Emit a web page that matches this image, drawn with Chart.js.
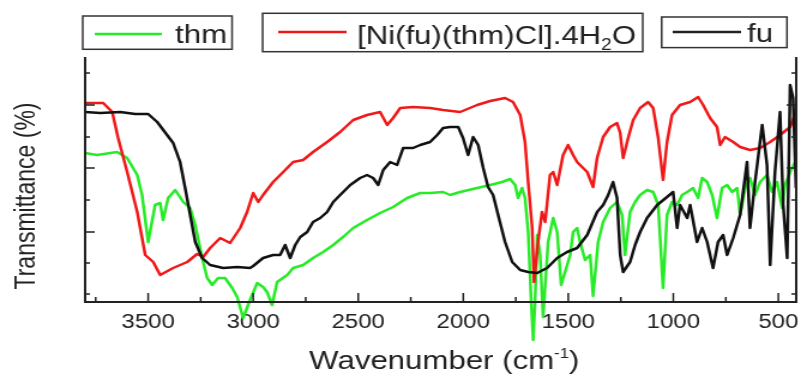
<!DOCTYPE html>
<html>
<head>
<meta charset="utf-8">
<script src="https://cdn.jsdelivr.net/npm/chart.js@4/dist/chart.umd.min.js"></script>
<style>
html, body { margin: 0; padding: 0; background: #fff; }
</style>
</head>
<body>
<canvas id="spectrum" width="668" height="374" style="display:block;width:801px;height:374px"></canvas>
<script>
// wavenumber (cm-1) and transmittance (arbitrary units, no labels on the axis)
var thmWn = [3800,3743,3648,3600,3552,3529,3500,3467,3443,3429,3405,3371,3333,3300,3276,3243,3219,3195,3167,3134,
    3100,3076,3048,3015,2981,2953,2934,2910,2886,2838,2810,2762,2715,2667,2619,2572,2524,2458,2396,2334,
    2267,2205,2158,2096,2063,2015,1934,1872,1815,1777,1753,1739,1720,1706,1691,1677,1667,1658,1648,1634,
    1620,1596,1572,1553,1534,1491,1477,1458,1444,1420,1396,1382,1358,1334,1301,1268,1244,1230,1206,1182,
    1158,1125,1096,1072,1049,1030,1006,982,958,934,906,882,863,839,815,792,768,744,720,696,
    682,658,635,611,587,554,530,506,482,468,444,420,416];
var thmT = [149,147,150,144,127,107,60,97,99,82,104,112,100,94,77,44,24,17,24,24,
    14,5,-16,2,19,15,10,-3,20,27,34,37,44,50,57,65,74,82,89,95,
    104,109,109,110,107,110,114,117,120,123,117,104,114,104,70,2,-38,2,67,47,
    -15,60,84,70,17,47,70,74,60,42,47,6,60,80,94,100,87,47,90,100,
    107,112,110,97,14,87,100,97,107,110,114,104,124,120,107,84,114,117,110,114,
    87,114,124,107,120,127,110,120,94,117,130,140,150];

var nicWn = [3800,3714,3671,3643,3600,3552,3514,3476,3443,3381,3314,3267,3238,3205,3157,3110,3062,3029,3000,2976,
    2953,2905,2857,2810,2762,2715,2648,2586,2524,2458,2396,2362,2334,2300,2239,2158,2096,2015,1934,1872,
    1801,1763,1729,1706,1691,1672,1663,1644,1625,1610,1587,1572,1553,1525,1501,1477,1458,1444,1410,1382,
    1363,1334,1301,1268,1253,1239,1215,1191,1158,1120,1096,1072,1049,1030,1006,968,920,882,858,825,
    792,777,754,715,682,635,587,539,492,444,416];
var nicT = [199,199,190,164,130,90,47,40,27,34,40,48,45,54,64,59,74,90,109,100,
    107,120,130,140,142,150,160,170,182,187,190,177,184,194,195,194,192,190,197,201,
    204,200,187,160,120,74,20,60,90,80,127,130,117,147,157,147,140,137,130,115,
    144,165,175,179,169,144,164,182,194,200,194,164,122,160,187,197,200,205,197,184,
    175,157,165,160,155,152,154,160,167,175,190];

var fuWn = [3800,3728,3633,3562,3500,3457,3410,3381,3348,3324,3300,3276,3243,3205,3143,3076,3015,3000,2953,2905,
    2872,2848,2824,2800,2776,2743,2715,2681,2648,2619,2586,2538,2491,2458,2429,2405,2381,2348,2315,2286,
    2239,2205,2158,2124,2096,2063,2024,2001,1977,1953,1929,1905,1882,1858,1834,1801,1767,1729,1691,1648,
    1601,1553,1506,1458,1410,1363,1334,1310,1287,1268,1253,1239,1206,1182,1158,1125,1077,1030,1001,982,
    968,934,920,887,863,839,811,787,763,744,715,682,649,635,611,577,554,539,516,492,
    477,458,444,430,416];
var fuT = [190,189,190,188,188,180,167,159,140,114,87,60,44,37,34,35,34,36,44,47,
    47,57,44,57,65,70,80,84,90,100,107,117,124,127,124,117,132,140,137,154,
    154,157,160,167,174,175,175,164,147,165,157,134,115,107,87,60,40,32,30,29,
    34,44,50,54,67,90,97,107,120,104,47,30,40,57,70,84,97,105,110,74,
    97,84,97,60,74,60,34,60,67,47,64,87,140,74,120,177,137,37,130,190,
    97,44,217,204,114];

var xMajor = [3500, 3000, 2500, 2000, 1500, 1000, 500];
var xMinor = [3750, 3250, 2750, 2250, 1750, 1250, 750];
var yMajor = [70, 134, 197];
var yMinor = [8, 39, 102, 165, 229];

function pairs(wn, t) {
    return wn.map(function (w, i) { return { x: w, y: t[i] }; });
}

var FONT = '"Liberation Sans", Arial, sans-serif';

function legendBox(ctx, x0, y0, x1, y1) {
    ctx.strokeStyle = '#333';
    ctx.lineWidth = 1.5;
    ctx.strokeRect(x0, y0, x1 - x0, y1 - y0);
}
function legendLine(ctx, x0, x1, y, color) {
    ctx.strokeStyle = color;
    ctx.lineWidth = 2.5;
    ctx.beginPath();
    ctx.moveTo(x0, y);
    ctx.lineTo(x1, y);
    ctx.stroke();
}

var decorations = {
    id: 'decorations',
    afterDraw: function (chart) {
        var ctx = chart.ctx;
        var a = chart.chartArea;
        var xs = chart.scales.x, ys = chart.scales.y;
        ctx.save();

        // frame: left, bottom, right
        ctx.strokeStyle = '#222';
        ctx.lineWidth = 2;
        ctx.beginPath();
        ctx.moveTo(a.left, a.top);
        ctx.lineTo(a.left, a.bottom);
        ctx.lineTo(a.right, a.bottom);
        ctx.lineTo(a.right, a.top);
        ctx.stroke();

        // inward ticks
        ctx.lineWidth = 1.5;
        ctx.beginPath();
        xMajor.forEach(function (v) {
            var p = xs.getPixelForValue(v);
            ctx.moveTo(p, a.bottom); ctx.lineTo(p, a.bottom - 9);
        });
        xMinor.forEach(function (v) {
            var p = xs.getPixelForValue(v);
            ctx.moveTo(p, a.bottom); ctx.lineTo(p, a.bottom - 5);
        });
        yMajor.forEach(function (v) {
            var p = ys.getPixelForValue(v);
            ctx.moveTo(a.left, p); ctx.lineTo(a.left + 8, p);
            ctx.moveTo(a.right, p); ctx.lineTo(a.right - 8, p);
        });
        yMinor.forEach(function (v) {
            var p = ys.getPixelForValue(v);
            ctx.moveTo(a.left, p); ctx.lineTo(a.left + 4, p);
            ctx.moveTo(a.right, p); ctx.lineTo(a.right - 4, p);
        });
        ctx.stroke();

        // legend
        ctx.fillStyle = '#fff';
        ctx.fillRect(69, 16, 124.5, 33.3);
        ctx.fillRect(219, 13.3, 317, 38.4);
        ctx.fillRect(551.8, 17, 104.5, 30.6);
        legendBox(ctx, 69, 16, 193.5, 49.3);
        legendBox(ctx, 219, 13.3, 536, 51.7);
        legendBox(ctx, 551.8, 17, 656.3, 47.6);
        legendLine(ctx, 79, 135, 34, 'rgb(40,235,40)');
        legendLine(ctx, 232, 289, 32, 'rgb(240,25,25)');
        legendLine(ctx, 561, 618, 32, '#222');

        ctx.fillStyle = '#222';
        ctx.textAlign = 'left';
        ctx.textBaseline = 'alphabetic';
        ctx.font = '26px ' + FONT;
        ctx.fillText('thm', 146, 43);
        ctx.fillText('fu', 623, 42);
        var t1 = '[Ni(fu)(thm)Cl].4H';
        var x = 297.7;
        ctx.fillText(t1, x, 44);
        x += ctx.measureText(t1).width;
        ctx.font = '16px ' + FONT;
        ctx.fillText('2', x, 50);
        x += ctx.measureText('2').width;
        ctx.font = '26px ' + FONT;
        ctx.fillText('O', x, 44);

        // x title with superscript
        var m1 = 'Wavenumber (cm', m2 = '-1', m3 = ')';
        ctx.font = '26px ' + FONT;
        var w1 = ctx.measureText(m1).width, w3 = ctx.measureText(m3).width;
        ctx.font = '14px ' + FONT;
        var w2 = ctx.measureText(m2).width;
        var sx = 370.5 - (w1 + w2 + w3) / 2;
        ctx.font = '26px ' + FONT;
        ctx.fillText(m1, sx, 369);
        ctx.font = '14px ' + FONT;
        ctx.fillText(m2, sx + w1, 358);
        ctx.font = '26px ' + FONT;
        ctx.fillText(m3, sx + w1 + w2, 369);

        // y title
        ctx.translate(22.5, 196);
        ctx.rotate(-Math.PI / 2);
        ctx.textAlign = 'center';
        ctx.textBaseline = 'middle';
        ctx.font = '23px ' + FONT;
        ctx.fillText('Transmittance (%)', 0, 0);
        ctx.restore();
    }
};

var ctx = document.getElementById('spectrum').getContext('2d');
var spectrumChart = new Chart(ctx, {
    type: 'line',
    data: {
        datasets: [
            { label: 'fu', data: pairs(fuWn, fuT), borderColor: '#111', borderWidth: 2.5 },
            { label: '[Ni(fu)(thm)Cl].4H2O', data: pairs(nicWn, nicT), borderColor: 'rgb(240,25,25)', borderWidth: 2.5 },
            { label: 'thm', data: pairs(thmWn, thmT), borderColor: 'rgb(40,235,40)', borderWidth: 2.5 }
        ]
    },
    options: {
        responsive: false,
        animation: false,
        devicePixelRatio: 1,
        events: [],
        layout: { padding: { left: 71, top: 57, right: 4, bottom: 0 } },
        elements: {
            point: { radius: 0 },
            line: { tension: 0, fill: false, borderJoinStyle: 'round' }
        },
        datasets: { line: { clip: false } },
        plugins: {
            legend: { display: false },
            tooltip: { enabled: false }
        },
        scales: {
            x: {
                type: 'linear',
                reverse: true,
                min: 415,
                max: 3800,
                grid: { display: false, drawTicks: false },
                border: { display: false },
                afterBuildTicks: function (s) {
                    s.ticks = xMajor.map(function (v) { return { value: v }; });
                },
                afterFit: function (s) {
                    s.height = 72;
                    s.paddingLeft = 0;
                    s.paddingRight = 0;
                },
                ticks: {
                    color: '#222',
                    padding: 8,
                    maxRotation: 0,
                    autoSkip: false,
                    font: { family: FONT, size: 20 },
                    callback: function (v) { return String(v); }
                }
            },
            y: {
                display: false,
                min: 0,
                max: 245
            }
        }
    },
    plugins: [decorations]
});
</script>
</body>
</html>
